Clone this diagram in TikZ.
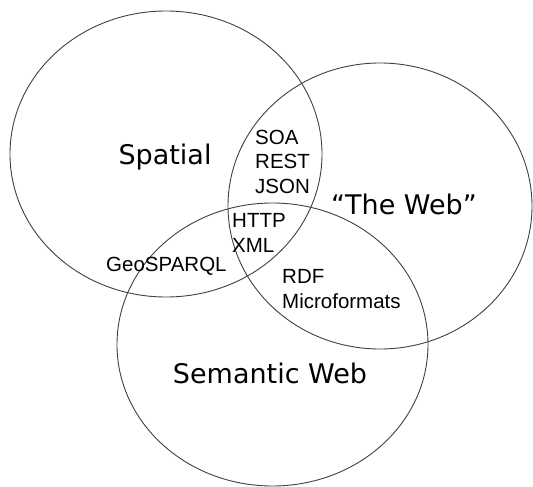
\documentclass[tikz,border=0pt]{standalone}
\usepackage{fontspec}
\setmainfont{Liberation Sans}
\newfontfamily\setfont{DejaVu Sans}
\tikzset{
  setline/.style={draw=black!75, line width=0.9pt},
  setname/.style={font=\setfont\fontsize{27}{30}\selectfont, anchor=base, inner sep=0pt},
  item/.style={font=\fontsize{20.5}{24}\selectfont, anchor=base west, inner sep=0pt}
}
\begin{document}
\begin{tikzpicture}[x=1pt,y=-1pt]
\useasboundingbox (0,0) rectangle (533,487);
% the three sets
\draw[setline] (166,154) ellipse (156 and 143);
\draw[setline] (380,206) ellipse (152 and 143);
\draw[setline] (272.5,344.5) ellipse (155.5 and 141.5);
% set names
\node[setname] (spatial) at (165,164) {Spatial};
\node[setname] (web) at (404,214) {“The Web”};
\node[setname] (semweb) at (270,383) {Semantic Web};
% overlap items
\foreach \nm/\x/\y/\txt in {soa/255/144/SOA, rest/255/168/REST, json/255/193.5/JSON,
  http/232/227/HTTP, xml/232/252/XML, geosparql/106/271.5/GeoSPARQL,
  rdf/282/283/RDF, microformats/282/308/Microformats}
  \node[item] (\nm) at (\x,\y) {\txt};
\end{tikzpicture}
\end{document}
